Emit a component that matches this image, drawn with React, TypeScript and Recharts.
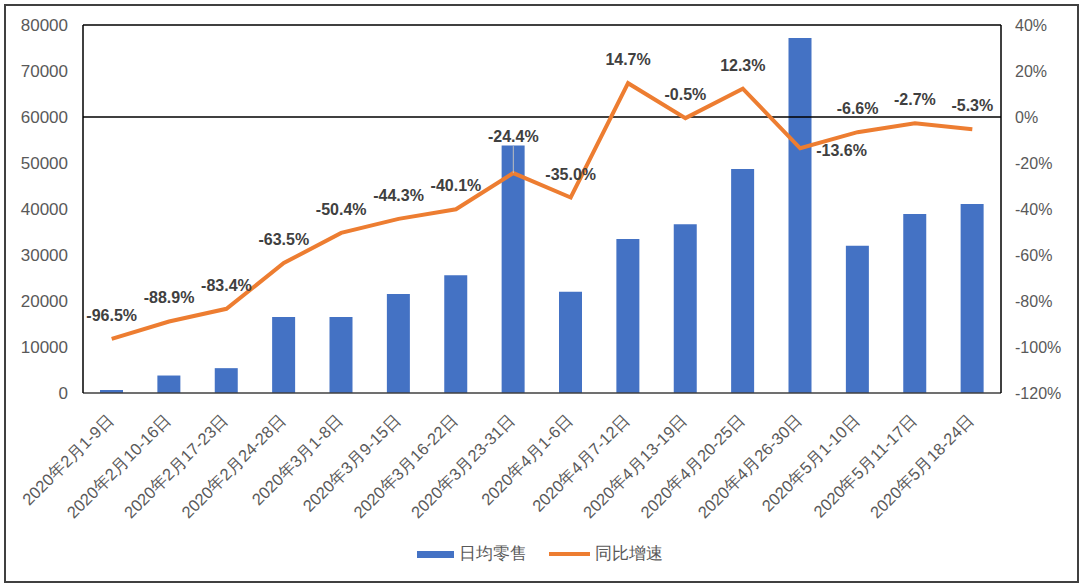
import {
  Bar,
  ComposedChart,
  LabelList,
  Legend,
  Line,
  ReferenceLine,
  XAxis,
  YAxis,
} from "recharts";

const periods = [
  "2020年2月1-9日",
  "2020年2月10-16日",
  "2020年2月17-23日",
  "2020年2月24-28日",
  "2020年3月1-8日",
  "2020年3月9-15日",
  "2020年3月16-22日",
  "2020年3月23-31日",
  "2020年4月1-6日",
  "2020年4月7-12日",
  "2020年4月13-19日",
  "2020年4月20-25日",
  "2020年4月26-30日",
  "2020年5月1-10日",
  "2020年5月11-17日",
  "2020年5月18-24日",
];

// 日均零售
const dailyRetail = [
  650, 3800, 5400, 16500, 16500, 21500, 25600, 53800, 22000, 33500, 36700,
  48700, 77200, 32000, 38900, 41100,
];

// 同比增速 (%)
const yoyGrowth = [
  -96.5, -88.9, -83.4, -63.5, -50.4, -44.3, -40.1, -24.4, -35.0, 14.7, -0.5,
  12.3, -13.6, -6.6, -2.7, -5.3,
];

const leftTicks = [0, 10000, 20000, 30000, 40000, 50000, 60000, 70000, 80000];
const rightTicks = [-120, -100, -80, -60, -40, -20, 0, 20, 40];

const data = periods.map((period, i) => ({
  period,
  retail: dailyRetail[i],
  growth: yoyGrowth[i],
}));

const BLUE = "#4472C4";
const ORANGE = "#ED7D31";
const TICK = "#595959";
const LABEL = "#404040";
const FONT = "'Liberation Sans', Arial, sans-serif";

function PeriodTick(props: any) {
  const { x, y, payload } = props;
  const ax = x + 3;
  const ay = y + 26;
  return (
    <text
      x={ax}
      y={ay}
      transform={`rotate(-45, ${ax}, ${ay})`}
      textAnchor="end"
      fontSize={16.5}
      fill={TICK}
      fontFamily={FONT}
    >
      {payload.value}
    </text>
  );
}

function GrowthLabel(props: any) {
  const { x, y, value, index } = props;
  const text = `${Number(value).toFixed(1)}%`;
  const common = {
    fontSize: 16,
    fontWeight: 700,
    fill: LABEL,
    fontFamily: FONT,
  };
  if (index === 7) {
    return (
      <g>
        <line x1={x} y1={y - 27} x2={x} y2={y} stroke="#BFBFBF" strokeWidth={1} />
        <text x={x} y={y - 31} textAnchor="middle" {...common}>
          {text}
        </text>
      </g>
    );
  }
  if (index === 12) {
    return (
      <text x={x + 16} y={y + 8} textAnchor="start" {...common}>
        {text}
      </text>
    );
  }
  return (
    <text x={x} y={y - 18} textAnchor="middle" {...common}>
      {text}
    </text>
  );
}

function ChartLegend() {
  const item = { display: "flex", alignItems: "center", gap: 5 };
  return (
    <div
      style={{
        display: "flex",
        justifyContent: "center",
        gap: 22,
        fontSize: 17,
        color: TICK,
        fontFamily: FONT,
        lineHeight: "22px",
      }}
    >
      <div style={item}>
        <span style={{ width: 37, height: 7, background: BLUE, display: "inline-block" }} />
        <span>日均零售</span>
      </div>
      <div style={item}>
        <span style={{ width: 41, height: 4, background: ORANGE, display: "inline-block" }} />
        <span>同比增速</span>
      </div>
    </div>
  );
}

export default function App() {
  return (
    <div
      style={{
        position: "fixed",
        left: 0,
        top: 0,
        width: 1080,
        height: 587,
        background: "#fff",
      }}
    >
      <ComposedChart
        width={1080}
        height={587}
        data={data}
        margin={{ top: 25, right: 0, bottom: 22, left: 0 }}
        barCategoryGap="30%"
      >
        <XAxis
          dataKey="period"
          interval={0}
          tickLine={false}
          tickSize={0}
          height={150}
          tick={<PeriodTick />}
          axisLine={{ stroke: "#404040", strokeWidth: 1.5 }}
        />
        <YAxis
          yAxisId="left"
          width={83}
          domain={[0, 80000]}
          ticks={leftTicks}
          interval={0}
          tickLine={false}
          tickSize={0}
          tickMargin={15}
          axisLine={{ stroke: "#000", strokeWidth: 1.5 }}
          tick={{ fontSize: 17, fill: TICK, fontFamily: FONT }}
        />
        <YAxis
          yAxisId="right"
          orientation="right"
          width={79}
          domain={[-120, 40]}
          ticks={rightTicks}
          interval={0}
          tickLine={false}
          tickSize={0}
          tickMargin={14}
          axisLine={{ stroke: "#000", strokeWidth: 1.5 }}
          tickFormatter={(v: number) => `${v}%`}
          tick={{ fontSize: 16, fill: TICK, fontFamily: FONT }}
        />
        <ReferenceLine yAxisId="left" y={80000} stroke="#000" strokeWidth={1.5} />
        <ReferenceLine yAxisId="right" y={0} stroke="#000" strokeWidth={1.5} />
        <Bar
          yAxisId="left"
          dataKey="retail"
          name="日均零售"
          fill={BLUE}
          barSize={23}
          isAnimationActive={false}
        />
        <Line
          yAxisId="right"
          dataKey="growth"
          name="同比增速"
          stroke={ORANGE}
          strokeWidth={4}
          dot={false}
          activeDot={false}
          isAnimationActive={false}
        >
          <LabelList dataKey="growth" content={<GrowthLabel />} />
        </Line>
        <Legend verticalAlign="bottom" content={<ChartLegend />} />
      </ComposedChart>
      <div
        style={{
          position: "absolute",
          left: 4,
          top: 4,
          width: 1071,
          height: 575,
          border: "2px solid #404040",
          pointerEvents: "none",
        }}
      />
    </div>
  );
}
